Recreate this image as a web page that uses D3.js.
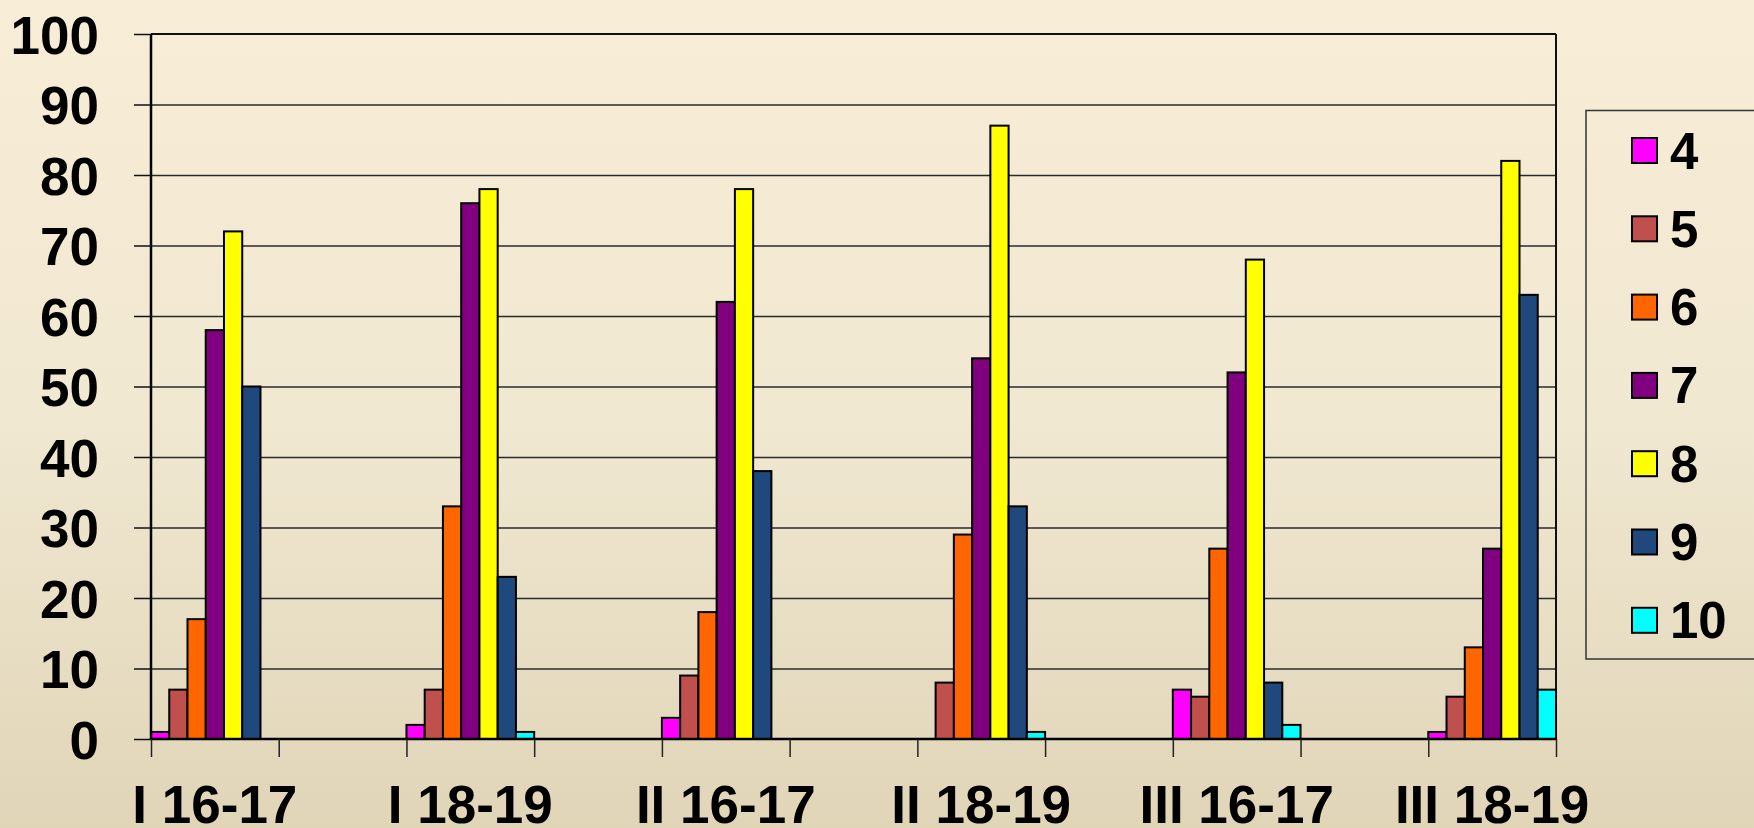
<!DOCTYPE html>
<html>
<head>
<meta charset="utf-8">
<script src="https://cdn.jsdelivr.net/npm/d3@7/dist/d3.min.js"></script>
<style>
  html, body { margin: 0; padding: 0; }
  body { width: 1754px; height: 828px; overflow: hidden; }
  svg { display: block; }
  text { font-family: "Liberation Sans", Arial, sans-serif; font-weight: bold; fill: #000; }
</style>
</head>
<body>
<svg id="chart" width="1754" height="828"></svg>
<script>
// ---- data ----
const categories = ["I 16-17", "I 18-19", "II 16-17", "II 18-19", "III 16-17", "III 18-19"];
const seriesNames = ["4", "5", "6", "7", "8", "9", "10"];
const s4  = [1, 2, 3, 0, 7, 1];
const s5  = [7, 7, 9, 8, 6, 6];
const s6  = [17, 33, 18, 29, 27, 13];
const s7  = [58, 76, 62, 54, 52, 27];
const s8  = [72, 78, 78, 87, 68, 82];
const s9  = [50, 23, 38, 33, 8, 63];
const s10 = [0, 1, 0, 1, 2, 7];
const seriesColors = ["#FF00FF", "#C0504D", "#FF6600", "#800080", "#FFFF00", "#1F497D", "#00FFFF"];
const yTicks = [0, 10, 20, 30, 40, 50, 60, 70, 80, 90, 100];

const seriesValues = [s4, s5, s6, s7, s8, s9, s10];

// ---- layout ----
const W = 1754, H = 828;
const plot = { left: 151, right: 1556, top: 34, bottom: 739 };

const svg = d3.select("#chart");

// background gradient
const defs = svg.append("defs");
const grad = defs.append("linearGradient").attr("id", "bg").attr("x1", 0).attr("y1", 0).attr("x2", 0).attr("y2", 1);
grad.append("stop").attr("offset", "0%").attr("stop-color", "#F8EDD6");
grad.append("stop").attr("offset", "50%").attr("stop-color", "#F1E8D2");
grad.append("stop").attr("offset", "100%").attr("stop-color", "#E0D5B7");
svg.append("rect").attr("width", W).attr("height", H).attr("fill", "url(#bg)");

// slots: each category followed by an empty slot (11 slots)
const nSlots = categories.length * 2 - 1;
const x = d3.scaleBand().domain(d3.range(nSlots)).range([plot.left, plot.right]).padding(0);
const xBound = d3.scaleLinear().domain([0, nSlots]).range([plot.left, plot.right]);
const xInner = d3.scaleBand().domain(seriesNames).range([0, x.bandwidth()]).padding(0);
const y = d3.scaleLinear().domain([0, 100]).range([plot.bottom, plot.top]);

// gridlines
svg.append("g")
  .attr("transform", `translate(${plot.left},0)`)
  .call(d3.axisLeft(y).tickValues(yTicks.filter(v => v > 0 && v < 100)).tickSize(-(plot.right - plot.left)).tickFormat(""))
  .call(g => g.select(".domain").remove())
  .call(g => g.selectAll(".tick line").attr("stroke", "#2a2a2a").attr("stroke-width", 1.3));

// plot border (top & right)
svg.append("line").attr("x1", plot.left).attr("x2", plot.right).attr("y1", y(100)).attr("y2", y(100))
  .attr("stroke", "#111").attr("stroke-width", 2);
svg.append("line").attr("x1", plot.right).attr("x2", plot.right).attr("y1", plot.top).attr("y2", plot.bottom)
  .attr("stroke", "#111").attr("stroke-width", 2);

// bars
const groups = svg.append("g").selectAll("g")
  .data(categories)
  .join("g")
  .attr("transform", (d, i) => `translate(${x(i * 2)},0)`);

groups.selectAll("rect")
  .data((d, ci) => seriesNames.map((s, si) => ({ s, si, v: seriesValues[si][ci] })))
  .join("rect")
  .attr("x", d => xInner(d.s))
  .attr("width", xInner.bandwidth())
  .attr("y", d => y(d.v))
  .attr("height", d => y(0) - y(d.v))
  .attr("fill", d => seriesColors[d.si])
  .attr("stroke", "#000")
  .attr("stroke-width", 2)
  .attr("display", d => d.v === 0 ? "none" : null);

// y axis
const yAxis = svg.append("g")
  .attr("transform", `translate(${plot.left},0)`)
  .call(d3.axisLeft(y).tickValues(yTicks).tickSize(17).tickPadding(35).tickFormat(d3.format("d")));
yAxis.select(".domain").attr("stroke", "#000").attr("stroke-width", 2.5).attr("d", `M0,${plot.top}V${plot.bottom}`);
yAxis.selectAll(".tick line").attr("stroke", "#111").attr("stroke-width", 1.5);
yAxis.selectAll(".tick text")
  .attr("font-size", 53).attr("font-family", "'Liberation Sans', Arial, sans-serif").attr("font-weight", "bold")
  .attr("fill", "#000").attr("dy", "0.36em");

// x axis (boundary ticks)
const xAxis = svg.append("g")
  .attr("transform", `translate(0,${plot.bottom})`)
  .call(d3.axisBottom(xBound).tickValues(d3.range(nSlots + 1)).tickSize(18).tickFormat(""));
xAxis.select(".domain").attr("stroke", "#000").attr("stroke-width", 2.5).attr("d", `M${plot.left},0H${plot.right}`);
xAxis.selectAll(".tick line").attr("stroke", "#222").attr("stroke-width", 1.5);

// category labels
svg.append("g").selectAll("text")
  .data(categories)
  .join("text")
  .attr("x", (d, i) => x(i * 2) + x.bandwidth() / 2)
  .attr("y", 823)
  .attr("text-anchor", "middle")
  .attr("font-size", 53)
  .text(d => d);

// legend
const legend = svg.append("g");
legend.append("rect")
  .attr("x", 1586).attr("y", 110.5).attr("width", 200).attr("height", 548.5)
  .attr("fill", "none").attr("stroke", "#333").attr("stroke-width", 1.5);
const li = legend.selectAll("g.item")
  .data(seriesNames)
  .join("g").attr("class", "item")
  .attr("transform", (d, i) => `translate(0,${150.5 + i * 78.3})`);
li.append("rect")
  .attr("x", 1632).attr("y", -12.5).attr("width", 25).attr("height", 25)
  .attr("fill", (d, i) => seriesColors[i]).attr("stroke", "#000").attr("stroke-width", 2);
li.append("text")
  .attr("x", 1670).attr("y", 18)
  .attr("font-size", 51)
  .text(d => d);
</script>
</body>
</html>
